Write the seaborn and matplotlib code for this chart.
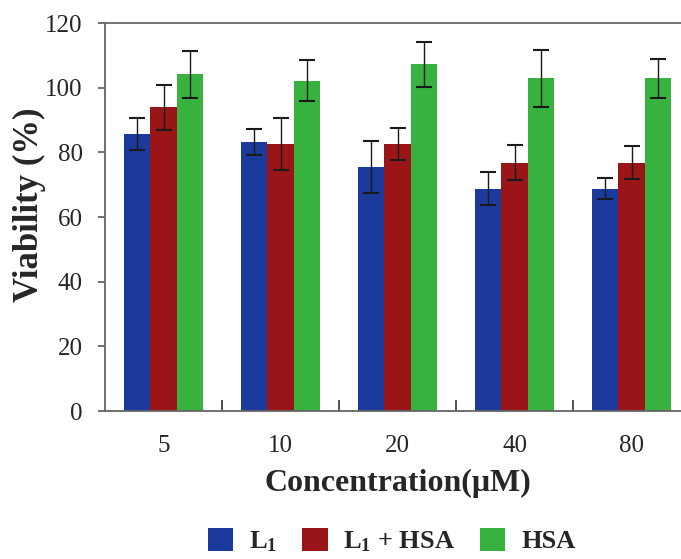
import numpy as np
import pandas as pd
import matplotlib
matplotlib.use("Agg")
import matplotlib.pyplot as plt
import seaborn as sns
from matplotlib.patches import Patch

concentrations = ["5", "10", "20", "40", "80"]
series_names = [r"$\mathbf{L_1}$", r"$\mathbf{L_1}$ + HSA", "HSA"]
l1_values = [85.7, 83.2, 75.4, 68.8, 68.8]
l1_err = [5.0, 4.0, 8.0, 5.2, 3.3]
l1hsa_values = [93.9, 82.6, 82.5, 76.8, 76.8]
l1hsa_err = [7.0, 8.0, 5.0, 5.5, 5.2]
hsa_values = [104.1, 102.2, 107.2, 102.9, 102.9]
hsa_err = [7.3, 6.4, 7.0, 8.8, 6.0]
colors = ["#1b3a9c", "#9a1518", "#38b23e"]

sns.set_style("white")
plt.rcParams["font.family"] = ["Liberation Serif", "DejaVu Serif"]
plt.rcParams["mathtext.fontset"] = "custom"
plt.rcParams["mathtext.rm"] = "Liberation Serif"
plt.rcParams["mathtext.bf"] = "Liberation Serif:bold"
plt.rcParams["mathtext.it"] = "Liberation Serif:italic"

vals = [l1_values, l1hsa_values, hsa_values]
errs = [l1_err, l1hsa_err, hsa_err]
rows = []
for s, v, e in zip(series_names, vals, errs):
    for c, vv, ee in zip(concentrations, v, e):
        rows.append({"Concentration": c, "Series": s, "Viability": vv, "err": ee})
df = pd.DataFrame(rows)

fig = plt.figure(figsize=(6.81, 5.59), dpi=100)
ax = fig.add_axes([105/681, 1-411/559, 585/681, (411-23)/559])

sns.barplot(data=df, x="Concentration", y="Viability", hue="Series",
            order=concentrations, hue_order=series_names, palette=colors,
            width=0.667, errorbar=None, saturation=1, ax=ax, legend=False,
            linewidth=0)

patches = list(ax.patches)
for i, s in enumerate(series_names):
    sub = df[df["Series"] == s]
    for j, c in enumerate(concentrations):
        p = patches[i*len(concentrations) + j]
        xc = p.get_x() + p.get_width()/2
        row = sub[sub["Concentration"] == c].iloc[0]
        ax.errorbar(xc, row["Viability"], yerr=row["err"], fmt="none",
                    ecolor="#1a1a1a", elinewidth=1.0, capsize=5.5, capthick=1.5)

ax.set_ylim(0, 120)
ax.set_xlim(-0.5, 4.5)
ax.set_yticks(np.arange(0, 121, 20))
ax.tick_params(axis="y", which="major", direction="out", length=5, width=1.2,
               color="#555555", labelsize=18, pad=11, left=True)
ax.tick_params(axis="x", which="major", length=0, labelsize=18, pad=17)
ax.set_xticks(np.arange(0.5, 4.5, 1.0), minor=True)
ax.tick_params(axis="x", which="minor", direction="in", length=8, width=1.2,
               color="#333333", bottom=True)

for side in ["left", "bottom", "top"]:
    ax.spines[side].set_visible(True)
    ax.spines[side].set_color("#666666")
    ax.spines[side].set_linewidth(1.3)
ax.spines["right"].set_visible(False)

ax.set_ylabel("Viability (%)", fontsize=25, fontweight="bold")
ax.yaxis.set_label_coords(-0.101, 0.531)
ax.set_xlabel("Concentration(μM)", fontsize=23, fontweight="bold", labelpad=9)

handles = [Patch(facecolor=c, edgecolor="none") for c in colors]
fig.legend(handles, series_names, loc="center", bbox_to_anchor=(392/681, 1-541/559),
           ncol=3, frameon=False, prop={"family": "Liberation Serif", "weight": "bold", "size": 19},
           handlelength=0.95, handleheight=0.95, handletextpad=0.6, columnspacing=0.95)

fig.savefig("out.png", dpi=100)
